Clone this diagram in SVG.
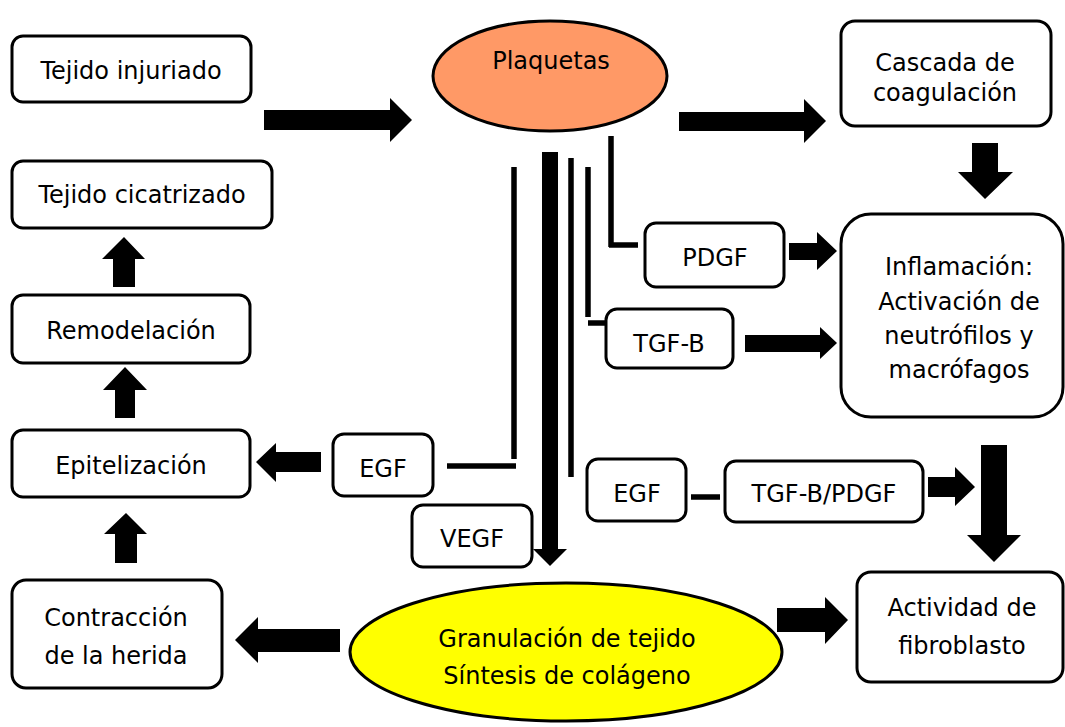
<svg xmlns="http://www.w3.org/2000/svg" width="1065" height="727" viewBox="0 0 1065 727">
<style>
.box{fill:#fff;stroke:#000;stroke-width:3}
.t{font-family:"DejaVu Sans","Liberation Sans",sans-serif;font-size:24px;fill:#000;text-anchor:middle}
.ln{stroke:#000;stroke-width:5.5;fill:none}
.ar{fill:#000}
</style>
<rect width="1065" height="727" fill="#fff"/>
<g id="connectors">
<polygon class="ar" points="264,110 390,110 390,98 412,120 390,142 390,130 264,130"/>
<polygon class="ar" points="679,112 804,112 804,99 826,121 804,143 804,131 679,131"/>
<polygon class="ar" points="972,143 998,143 998,172 1013,172 985,199 958,172 972,172"/>
<polygon class="ar" points="789,243 817,243 817,232 837,251 817,270 817,260 789,260"/>
<polygon class="ar" points="745,335 820,335 820,327 837,343 820,359 820,352 745,352"/>
<polygon class="ar" points="928,477 955,477 955,467 975,487 955,506 955,497 928,497"/>
<polygon class="ar" points="981,445 1007,445 1007,535 1021,535 994,562 967,535 981,535"/>
<polygon class="ar" points="777,608 825,608 825,597 848,620 825,644 825,632 777,632"/>
<polygon class="ar" points="340,629 258,629 258,617 235,640 258,663 258,652 340,652"/>
<polygon class="ar" points="321,452 276,452 276,443 256,462 276,482 276,472 321,472"/>
<polygon class="ar" points="115,563 115,534 104,534 126,513 147,534 137,534 137,563"/>
<polygon class="ar" points="115,418 115,390 103,390 125,367 147,390 135,390 135,418"/>
<polygon class="ar" points="113,287 113,259 102,259 124,237 145,259 135,259 135,287"/>
<polygon class="ar" points="542,152 558,152 558,549 567,549 550,566 533,549 542,549"/>
<line class="ln" x1="514" y1="167" x2="514" y2="459"/>
<line class="ln" x1="447" y1="466" x2="516" y2="466"/>
<line class="ln" x1="571" y1="158" x2="571" y2="477"/>
<line class="ln" x1="588" y1="167" x2="588" y2="317"/>
<line class="ln" x1="588" y1="323" x2="606" y2="323"/>
<line class="ln" x1="611" y1="136" x2="611" y2="247"/>
<line class="ln" x1="609" y1="245" x2="638" y2="245"/>
<line class="ln" x1="691" y1="497" x2="720" y2="497"/>
</g>
<g id="tejido-injuriado"><rect class="box" x="12" y="36" width="239" height="66" rx="11"/><text class="t" x="131" y="79">Tejido injuriado</text></g>
<g id="tejido-cicatrizado"><rect class="box" x="12" y="161" width="260" height="67" rx="11"/><text class="t" x="142" y="203">Tejido cicatrizado</text></g>
<g id="remodelacion"><rect class="box" x="12" y="295" width="238" height="68" rx="11"/><text class="t" x="131" y="339">Remodelación</text></g>
<g id="epitelizacion"><rect class="box" x="12" y="430" width="238" height="67" rx="11"/><text class="t" x="131" y="474">Epitelización</text></g>
<g id="contraccion"><rect class="box" x="12" y="580" width="210" height="108" rx="14"/><text class="t" x="116" y="626">Contracción</text><text class="t" x="116" y="664">de la herida</text></g>
<g id="plaquetas"><ellipse cx="550" cy="76" rx="117" ry="55" fill="#FF9966" stroke="#000" stroke-width="3"/><text class="t" x="551" y="69">Plaquetas</text></g>
<g id="cascada"><rect class="box" x="841" y="21" width="210" height="105" rx="14"/><text class="t" x="945" y="71">Cascada de</text><text class="t" x="945" y="101">coagulación</text></g>
<g id="pdgf"><rect class="box" x="645" y="223" width="139" height="64" rx="11"/><text class="t" x="715" y="266">PDGF</text></g>
<g id="tgfb"><rect class="box" x="606" y="309" width="127" height="59" rx="11"/><text class="t" x="669" y="352">TGF-B</text></g>
<g id="inflamacion"><rect class="box" x="841" y="214" width="222" height="203" rx="30"/><text class="t" x="959" y="275">Inflamación:</text><text class="t" x="959" y="310">Activación de</text><text class="t" x="959" y="344">neutrófilos y</text><text class="t" x="959" y="378">macrófagos</text></g>
<g id="egf-left"><rect class="box" x="333" y="434" width="100" height="62" rx="11"/><text class="t" x="383" y="477">EGF</text></g>
<g id="vegf"><rect class="box" x="412" y="505" width="120" height="62" rx="11"/><text class="t" x="472" y="547">VEGF</text></g>
<g id="egf-right"><rect class="box" x="587" y="459" width="99" height="62" rx="11"/><text class="t" x="637" y="502">EGF</text></g>
<g id="tgfb-pdgf"><rect class="box" x="725" y="461" width="198" height="61" rx="11"/><text class="t" x="824" y="502">TGF-B/PDGF</text></g>
<g id="granulacion"><ellipse cx="566" cy="652" rx="216" ry="69" fill="#FFFF00" stroke="#000" stroke-width="3"/><text class="t" x="567" y="647">Granulación de tejido</text><text class="t" x="567" y="684">Síntesis de colágeno</text></g>
<g id="actividad"><rect class="box" x="857" y="572" width="206" height="110" rx="14"/><text class="t" x="962" y="616">Actividad de</text><text class="t" x="962" y="654">fibroblasto</text></g>
</svg>
